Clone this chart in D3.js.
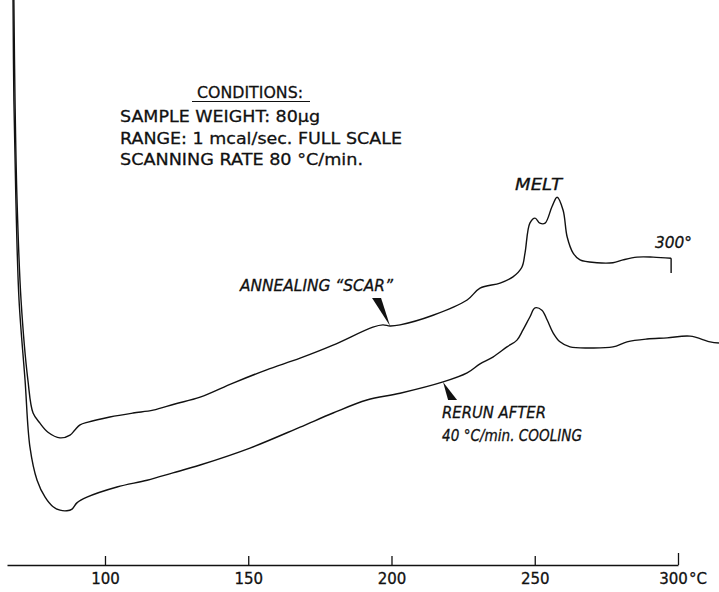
<!DOCTYPE html>
<html>
<head>
<meta charset="utf-8">
<script src="https://cdn.jsdelivr.net/npm/d3@7"></script>
<style>
  html, body { margin: 0; padding: 0; background: #fff; }
  svg { display: block; }
  text { font-family: "DejaVu Sans", sans-serif; fill: #111; stroke: #111; stroke-width: 0.3; }
</style>
</head>
<body>
<svg id="chart" width="719" height="592"></svg>
<script>
// DSC thermogram: temperature (°C) vs. heat flow (arbitrary units, % of full scale)

// First heating run (annealed sample)
const firstRunTemp = [68.2, 68.6, 69.3, 70.7, 73.1, 74.9, 77.3, 80.1, 84.3, 87.8, 89.5, 91.3, 94.1,
  101.7, 109.8, 116.8, 124.4, 133.2, 144.7, 156.2, 168.1, 179.6, 193.5, 197.0, 199.5, 203.0,
  214.5, 226.4, 230.9, 237.9, 242.4, 245.5, 246.6, 248.3, 250.1, 251.8, 253.6, 256.0, 257.8,
  259.9, 261.3, 263.4, 265.8, 271.7, 277.3, 280.8, 285.7, 291.3, 297.6];
const firstRunFlow = [100, 82.3, 64.6, 46.9, 32.7, 26.9, 25.1, 23.5, 22.5, 23.0, 23.9, 24.8, 25.3,
  26.2, 26.9, 27.4, 28.5, 29.7, 32.2, 34.5, 36.6, 38.9, 42.1, 42.5, 42.3, 42.5,
  44.2, 46.9, 49.0, 49.9, 51.0, 52.7, 55.2, 60.5, 61.4, 60.5, 60.5, 63.4, 65.1,
  62.8, 58.1, 55.2, 54.0, 53.5, 53.5, 54.0, 54.5, 54.5, 54.3];

// Rerun after 40 °C/min cooling
const rerunTemp = [67.9, 68.2, 68.9, 70.0, 72.1, 73.8, 76.3, 79.1, 81.9, 84.3, 86.7, 88.5, 90.2,
  93.7, 104.2, 114.7, 123.7, 133.2, 150.6, 168.1, 179.6, 191.4, 203.0, 218.0, 226.4, 230.9,
  235.4, 240.3, 243.8, 245.9, 248.3, 250.1, 252.5, 254.3, 256.4, 258.8, 262.3, 269.3, 277.3,
  282.2, 289.2, 296.2, 304.2, 311.2, 314.3];
const rerunFlow = [100, 82.3, 64.6, 46.9, 32.7, 20.9, 15.0, 12.0, 10.3, 9.7, 9.6, 9.9, 11.0,
  12.0, 13.8, 15.0, 16.3, 17.7, 20.7, 24.4, 26.9, 29.2, 30.4, 32.4, 34.0, 35.6,
  36.8, 38.6, 39.8, 41.6, 43.9, 45.5, 45.1, 43.4, 41.1, 39.5, 38.6, 38.4, 38.6,
  39.5, 40.0, 40.2, 40.5, 39.5, 39.3];

// End-of-run marker drop on the first run at 300°
const firstRunEndDrop = 51.7;

const tempTicks = [100, 150, 200, 250, 300];
const tempDomain = [65.8, 300];

const conditionsTitle = "CONDITIONS:";
const conditionLines = [
  "SAMPLE WEIGHT: 80µg",
  "RANGE: 1 mcal/sec. FULL SCALE",
  "SCANNING RATE 80 °C/min."
];

const svg = d3.select("#chart");

const x = d3.scaleLinear().domain(tempDomain).range([7, 678]);
const y = d3.scaleLinear().domain([0, 100]).range([565, 0]);

const firstRun = firstRunTemp.map((t, i) => ({ t, v: firstRunFlow[i] }));
const rerun = rerunTemp.map((t, i) => ({ t, v: rerunFlow[i] }));

const line = d3.line()
  .x(d => x(d.t))
  .y(d => y(d.v))
  .curve(d3.curveCatmullRom.alpha(0.5));

svg.append("path")
  .datum(firstRun)
  .attr("d", line)
  .attr("fill", "none")
  .attr("stroke", "#111")
  .attr("stroke-width", 1.4)
  .attr("stroke-linejoin", "round");

// drop at end of first run
const lastPt = firstRun[firstRun.length - 1];
svg.append("line")
  .attr("x1", x(lastPt.t)).attr("x2", x(lastPt.t))
  .attr("y1", y(lastPt.v)).attr("y2", y(firstRunEndDrop))
  .attr("stroke", "#111").attr("stroke-width", 1.4);

svg.append("path")
  .datum(rerun)
  .attr("d", line)
  .attr("fill", "none")
  .attr("stroke", "#111")
  .attr("stroke-width", 1.4)
  .attr("stroke-linejoin", "round");

// temperature axis, ticks pointing up
const axis = d3.axisBottom(x)
  .tickValues(tempTicks)
  .tickSizeInner(-9)
  .tickSizeOuter(0)
  .tickPadding(8)
  .tickFormat(d3.format("d"));

const gAxis = svg.append("g")
  .attr("transform", `translate(0,${y(0)})`)
  .call(axis);

gAxis.select(".domain").attr("stroke", "#111").attr("stroke-width", 1.6);
gAxis.selectAll(".tick line").attr("stroke", "#111").attr("stroke-width", 1.3);
gAxis.selectAll(".tick line").filter(d => d === 300).attr("y2", -12);
gAxis.selectAll(".tick text")
  .attr("font-family", "DejaVu Sans, sans-serif")
  .attr("font-size", 15)
  .attr("fill", "#111")
  .attr("dx", d => d === 300 ? -5 : 0);

gAxis.append("text")
  .attr("x", x(300) + 11)
  .attr("y", 8)
  .attr("dy", "0.71em")
  .attr("text-anchor", "start")
  .attr("font-size", 15)
  .attr("fill", "#111")
  .text("°C");

// conditions block
const cond = svg.append("g");
cond.append("text")
  .attr("x", 197).attr("y", 98)
  .attr("font-size", 16.5)
  .attr("textLength", 106).attr("lengthAdjust", "spacingAndGlyphs")
  .text(conditionsTitle);
cond.append("line")
  .attr("x1", 192).attr("x2", 310)
  .attr("y1", 101.5).attr("y2", 101.5)
  .attr("stroke", "#111").attr("stroke-width", 1.2);

const condWidths = [200, 282, 243];
cond.selectAll("text.cline")
  .data(conditionLines)
  .join("text")
  .attr("class", "cline")
  .attr("x", 120)
  .attr("y", (d, i) => 122 + i * 21.5)
  .attr("font-size", 16.5)
  .attr("textLength", (d, i) => condWidths[i])
  .attr("lengthAdjust", "spacingAndGlyphs")
  .text(d => d);

// italic annotations
function label(txt, px, py, width) {
  svg.append("text")
    .attr("x", px).attr("y", py)
    .attr("font-size", 16)
    .attr("font-style", "italic")
    .attr("textLength", width)
    .attr("lengthAdjust", "spacingAndGlyphs")
    .text(txt);
}

label("MELT", 515, 190, 47);
label("300°", 655, 248, 37);
label("ANNEALING \u201CSCAR\u201D", 240, 291, 153);
label("RERUN AFTER", 442, 418, 104);
label("40 °C/min. COOLING", 442, 441, 140);

// wedge pointers, tip on the curve
function wedge(pt, baseDx0, baseDx1, baseDy) {
  const tx = x(pt.t), ty = y(pt.v);
  svg.append("path")
    .attr("d", `M${tx},${ty} L${tx + baseDx0},${ty + baseDy} L${tx + baseDx1},${ty + baseDy} Z`)
    .attr("fill", "#111");
}
wedge(firstRun[firstRunTemp.indexOf(199.5)], -18, -9, -28);
wedge(rerun[rerunTemp.indexOf(218.0)], 5, 14, 18);
</script>
</body>
</html>
